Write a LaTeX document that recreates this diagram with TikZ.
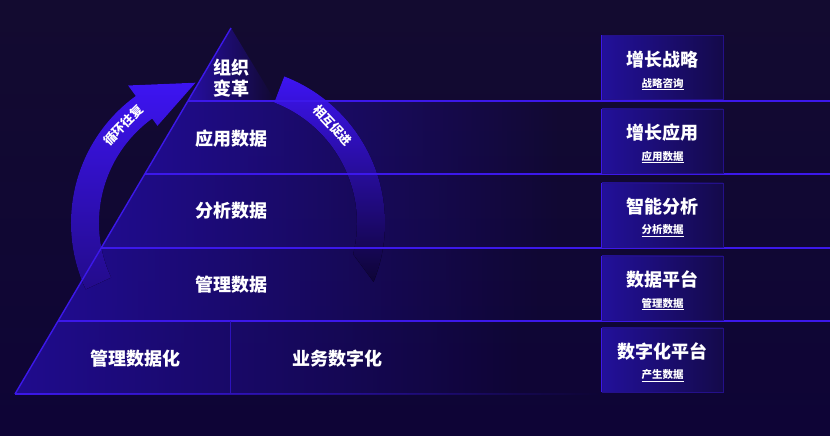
\documentclass[tikz,border=0pt]{standalone}
\usepackage{fontspec}
\usetikzlibrary{fadings}
\newfontfamily\cjk{Noto Sans CJK SC}
\definecolor{bgtop}{HTML}{130B30}
\definecolor{bgbot}{HTML}{0E0436}
\definecolor{edgeblue}{HTML}{3C18EA}
\definecolor{layerblue}{HTML}{200C8E}
\definecolor{arcblue}{HTML}{3D14F2}
\definecolor{boxblue}{HTML}{22109A}
\definecolor{boxdark}{HTML}{140A4A}
\tikzfading[name=fadeeast, left color=transparent!0, right color=transparent!100]

\begin{document}
\begin{tikzpicture}[x=1pt,y=1pt,
	edge/.style={edgeblue, line width=1.4pt},
	layer/.style={fill=layerblue, path fading=fadeeast},
	big/.style={font=\cjk\bfseries\fontsize{18}{21}\selectfont},
	small/.style={font=\cjk\bfseries\fontsize{10.5}{12}\selectfont},
	arctext/.style={font=\cjk\bfseries\fontsize{12.5}{15}\selectfont},
	infobox/.style={minimum width=121pt, minimum height=64pt, left color=boxblue, right color=boxdark, draw=edgeblue!40!boxdark, line width=0.6pt},
	boxedge/.style={edgeblue, line width=1pt}]
\tikzstyle{every node}=[text=white, inner sep=0pt]
	\fill[top color=bgtop, bottom color=bgbot] (0,0) rectangle (830,436);
	\useasboundingbox (0,0) rectangle (830,436);

	% pyramid layers
	\fill[fill=layerblue!80!arcblue, path fading=fadeeast] (231,408) -- (188,335) -- (275,335) -- cycle;
	\fill[layer] (188,335) -- (560,335) -- (560,262) -- (145,262) -- cycle;
	\fill[layer] (145,262) -- (560,262) -- (560,188) -- (101,188) -- cycle;
	\fill[layer] (101,188) -- (540,188) -- (540,115) -- (58,115) -- cycle;
	\fill[layer] (58,115) -- (520,115) -- (520,42) -- (15,42) -- cycle;

	% the two arcs
	\begin{scope}[shift={(228,213)}]
	\fill[top color=arcblue, bottom color=arcblue!45!bgbot] (205:129) arc[start angle=205, end angle=126, radius=129] -- (126:120) -- (103:144) -- (126:170) -- (126:157) arc[start angle=126, end angle=205, radius=157] -- cycle;
	\fill[top color=arcblue, bottom color=bgbot] (69:157) arc[start angle=69, end angle=-22, radius=157] -- (-14:129) arc[start angle=-14, end angle=69, radius=129] -- cycle;
	\node[arctext, rotate=45] (loop) at (137:143) {循环往复};
	\node[arctext, rotate=-47] (mutual) at (43:143) {相互促进};
	\end{scope}

	\draw[edge] (231,408) -- (15,42);
	\draw[edge] (188,335) -- (830,335);
	\draw[edge] (145,262) -- (830,262);
	\draw[edge] (101,188) -- (830,188);
	\draw[edge] (58,115) -- (830,115);
	\fill[edgeblue, path fading=fadeeast] (15,41.3) rectangle (600,42.7);
	\draw[edgeblue!50!layerblue, line width=0.8pt] (230,115) -- (230,42);

	\node[big, align=center] (org) at (231,358) {组织\\变革};
	\node[big] (apply) at (231,297) {应用数据};
	\node[big] (analyse) at (231,225) {分析数据};
	\node[big] (manage) at (231,151) {管理数据};
	\node[big] (mgmtdig) at (135,77) {管理数据化};
	\node[big] (bizdig) at (337,77) {业务数字化};

	% boxes on the right
	\node[infobox] (strategy) at (662.5,368.5) {};
	\draw[boxedge] (strategy.south west) -- (strategy.north west);
	\node[big] (strategyT) at (662.5,376) {增长战略};
	\node[small] (strategyS) at (662.5,352) {\underline{战略咨询}};

	\node[infobox] (growth) at (662.5,295) {};
	\draw[boxedge] (growth.south west) -- (growth.north west);
	\node[big] (growthT) at (662.5,303) {增长应用};
	\node[small] (growthS) at (662.5,279) {\underline{应用数据}};

	\node[infobox] (smart) at (662.5,221) {};
	\draw[boxedge] (smart.south west) -- (smart.north west);
	\node[big] (smartT) at (662.5,229) {智能分析};
	\node[small] (smartS) at (662.5,205) {\underline{分析数据}};

	\node[infobox] (platform) at (662.5,148) {};
	\draw[boxedge] (platform.south west) -- (platform.north west);
	\node[big] (platformT) at (662.5,156) {数据平台};
	\node[small] (platformS) at (662.5,132) {\underline{管理数据}};

	\node[infobox] (digital) at (662.5,76) {};
	\draw[boxedge] (digital.south west) -- (digital.north west);
	\node[big] (digitalT) at (662.5,84) {数字化平台};
	\node[small] (digitalS) at (662.5,60) {\underline{产生数据}};
\end{tikzpicture}
\end{document}
